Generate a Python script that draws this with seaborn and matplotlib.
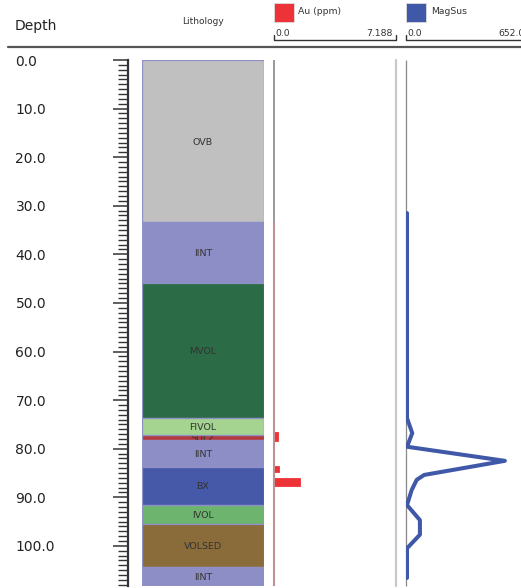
import pandas as pd
import matplotlib.pyplot as plt
from matplotlib.patches import Rectangle
import seaborn as sns

# Lithology intervals (m)
lith_names = ["OVB", "IINT", "MVOL", "FIVOL", "SULZ", "IINT", "BX", "IVOL", "VOLSED", "IINT"]
lith_top = [0.0, 33.4, 45.9, 73.7, 77.1, 78.2, 83.7, 91.6, 95.5, 104.3]
lith_base = [33.4, 45.9, 73.7, 77.1, 78.2, 83.7, 91.6, 95.5, 104.3, 108.2]
lith_colors = {"OVB": "#c0c0c0", "IINT": "#8e8ec6", "MVOL": "#2b6b45", "FIVOL": "#a4d48f",
               "SULZ": "#b3393b", "BX": "#4559a8", "IVOL": "#6db56f", "VOLSED": "#8a6c3a"}

# Au assays (ppm)
au_top = [76.5, 83.5, 86.1, 87.6, 97.1]
au_base = [78.5, 84.7, 87.6, 91.6, 101.9]
au_ppm = [0.25, 0.33, 1.54, 0.05, 0.05]

# Magnetic susceptibility
mag_depth = [31.5, 73.7, 76.8, 79.6, 82.5, 85.4, 86.4, 88.5, 91.6, 94.7, 97.7, 100.5, 106.6]
mag_val = [7, 7, 35, 7, 530, 99, 59, 32, 7, 76, 76, 7, 7]

depth_ticks = [0, 10, 20, 30, 40, 50, 60, 70, 80, 90, 100]
d_max = 108.2

sns.set_style("white")
plt.rcParams["font.family"] = ["DejaVu Sans"]

W, H = 521, 588
fig = plt.figure(figsize=(W / 100, H / 100), dpi=100)


def px_axes(x0, x1, y0=60, y1=585.7):
    return fig.add_axes([x0 / W, 1 - y1 / H, (x1 - x0) / W, (y1 - y0) / H])


# Header
hdr = fig.add_axes([0, 0, 1, 1])
hdr.set_xlim(0, W)
hdr.set_ylim(H, 0)
hdr.axis("off")
hdr.plot([8, W], [47, 47], color="#555555", lw=1.6)
hdr.text(15, 26, "Depth", fontsize=10, va="center", ha="left", color="#222222")
hdr.text(203, 22, "Lithology", fontsize=6.5, va="center", ha="center", color="#333333")
for x0, x1, col, name, vmax in [(273.5, 395.7, "#ee3338", "Au (ppm)", "7.188"),
                                (405.7, 527.7, "#3f58a8", "MagSus", "652.0")]:
    hdr.add_patch(Rectangle((x0, 3), 20, 19, facecolor=col, edgecolor="#dddddd", lw=0.6))
    hdr.text(x0 + 25, 12, name, fontsize=6.7, va="center", ha="left", color="#333333")
    hdr.plot([x0, x0, x1, x1], [35, 40, 40, 35], color="#333333", lw=1.0)
    hdr.text(x0 + 2, 33, "0.0", fontsize=6.7, va="center", ha="left", color="#333333")
    hdr.text(x1 - 3, 33, vmax, fontsize=6.7, va="center", ha="right", color="#333333")

# Depth ruler
ax_r = px_axes(128, 142)
ax_r.set_ylim(d_max, 0)
ax_r.set_xlim(0, 1)
for s in ["top", "right", "bottom"]:
    ax_r.spines[s].set_visible(False)
ax_r.spines["left"].set_linewidth(1.6)
ax_r.spines["left"].set_color("#333333")
ax_r.set_xticks([])
ax_r.set_yticks(depth_ticks)
ax_r.set_yticks([d for d in range(0, 109) if d % 10], minor=True)
ax_r.set_yticklabels([f"{d:.1f}" for d in depth_ticks], ha="left", fontsize=10, color="#222222")
ax_r.tick_params(axis="y", which="major", length=10.5, width=1.1, color="#333333",
                 pad=70.5, left=True)
ax_r.tick_params(axis="y", which="minor", length=7, width=1.0, color="#333333", left=True)

# Lithology column (thin SULZ label sits under its neighbours, as in the log viewer)
ax_l = px_axes(142, 264)
ax_l.set_ylim(d_max, 0)
ax_l.set_xlim(0, 1)
ax_l.axis("off")
for name, t, b in zip(lith_names, lith_top, lith_base):
    thin = (b - t) < 2
    rect = Rectangle((0, t), 1, b - t, facecolor=lith_colors[name], edgecolor="#9090c8",
                     lw=0.9, zorder=1 if thin else 2)
    ax_l.add_patch(rect)
    ax_l.text(0.5, (t + b) / 2 + 0.2, name, fontsize=6.8, ha="center", va="center",
              color="#333333", zorder=1.5 if thin else 3)

# Au track
ax_au = px_axes(273.5, 395.7)
ax_au.set_ylim(d_max, 0)
ax_au.set_xlim(0, 7.188)
ax_au.axis("off")
ax_au.vlines(0, 0, 33.4, color="#888888", lw=1.2, clip_on=False)
ax_au.vlines(0, 33.4, d_max, color="#bf9090", lw=1.5, clip_on=False)
au_df = pd.DataFrame({"top": au_top, "base": au_base, "ppm": au_ppm})
ax_au.barh(y=(au_df["top"] + au_df["base"]) / 2, width=au_df["ppm"],
           height=au_df["base"] - au_df["top"], left=0, color="#ee3338",
           edgecolor="#ee3338", lw=0.6)

# separator between tracks
fig.add_artist(plt.Line2D([395.7 / W, 395.7 / W], [1 - 585.7 / H, 1 - 60 / H],
                          color="#c8c8c8", lw=1.6))

# MagSus track
ax_m = px_axes(405.7, 527.7)
ax_m.set_ylim(d_max, 0)
ax_m.set_xlim(0, 652.0)
ax_m.axis("off")
ax_m.vlines(0, 0, d_max, color="#888888", lw=0.9, clip_on=False)
mag_df = pd.DataFrame({"depth": mag_depth, "MagSus": mag_val})
sns.lineplot(data=mag_df, x="MagSus", y="depth", sort=False, estimator=None,
             orient="y", color="#3f58a8", lw=2.9, ax=ax_m, legend=False)
ax_m.set_ylim(d_max, 0)
ax_m.set_xlim(0, 652.0)

plt.savefig("out.png", dpi=100)
